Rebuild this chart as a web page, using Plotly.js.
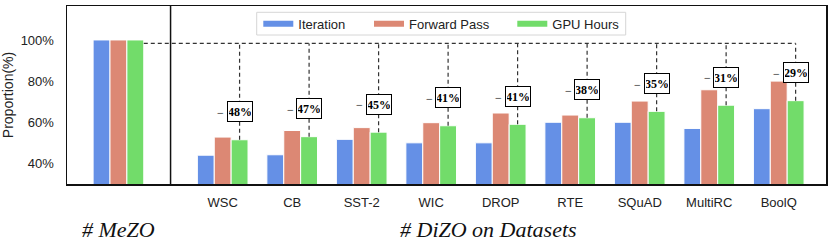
<!DOCTYPE html>
<html>
<head>
<meta charset="utf-8">
<script src="https://cdn.plot.ly/plotly-3.0.1.min.js"></script>
<style>html,body{margin:0;padding:0;background:#fff;}#chart{width:830px;height:244px;}</style>
</head>
<body>
<div id="chart"></div>
<script>
// ---- data ----
const categories = ['WSC', 'CB', 'SST-2', 'WIC', 'DROP', 'RTE', 'SQuAD', 'MultiRC', 'BoolQ'];
const seriesNames = ['Iteration', 'Forward Pass', 'GPU Hours'];
const mezoValues = [100, 100, 100];               // Iteration, Forward Pass, GPU Hours for MeZO
const iteration = [44, 44.2, 51.7, 50, 50, 60, 60, 57, 66.6];
const forwardPass = [52.8, 56, 57.4, 59.8, 64.5, 63.5, 70.3, 75.8, 80];
const gpuHours = [51.5, 53, 55.2, 58.3, 59, 62.2, 65.3, 68.3, 70.5];
const reductionLabels = ['48%', '47%', '45%', '41%', '41%', '38%', '35%', '31%', '29%'];
const yTicks = [40, 60, 80, 100];
const groupTitles = ['# MeZO', '# DiZO on Datasets'];

// ---- styling / layout constants ----
const colors = ['#6590E6', '#DC8874', '#72DC6A'];
const mezoPos = -1.5;
const barW = 0.243;
const offsets = [-1.5 * barW, -0.5 * barW, 0.5 * barW];
const refLevel = 98.3;      // dashed reference line level
const labelLift = 13.5;     // label box above green bar top
const catPos = categories.map((c, i) => i);
const serif = 'Liberation Serif, Times New Roman, serif';

const series = [iteration, forwardPass, gpuHours];
const traces = series.map((vals, k) => ({
  type: 'bar',
  x: [mezoPos].concat(catPos),
  y: [mezoValues[k]].concat(vals),
  width: barW,
  offset: offsets[k],
  marker: {color: colors[k], line: {color: '#ffffff', width: 1}},
  showlegend: false,
  hoverinfo: 'skip'
}));
// legend entries (wide swatches)
const legendIds = ['legend', 'legend2', 'legend3'];
seriesNames.forEach((n, k) => {
  traces.push({
    type: 'scatter', mode: 'lines', x: [null], y: [null], name: n,
    line: {color: colors[k], width: 6}, legend: legendIds[k], showlegend: true
  });
});

// margins
const M = {l: 67, r: 4, t: 6, b: 60};
const W = 830, H = 244;
const pw = W - M.l - M.r, ph = H - M.t - M.b;
const px2x = p => (p - M.l) / pw;
const py2y = p => (H - M.b - p) / ph;

const shapes = [];
const annotations = [];
// divider
shapes.push({type: 'line', xref: 'x', yref: 'paper', x0: (mezoPos + 0) / 2, x1: (mezoPos + 0) / 2, y0: 0, y1: 1,
  line: {color: '#111', width: 1.5}});
// horizontal dashed reference line
const greenCenter = i => catPos[i] + offsets[2] + barW / 2;
shapes.push({type: 'line', xref: 'x', yref: 'y', x0: mezoPos + offsets[2] + barW, x1: greenCenter(categories.length - 1),
  y0: refLevel, y1: refLevel, line: {color: '#333', width: 1.2, dash: '4px,3px'}});
categories.forEach((c, i) => {
  shapes.push({type: 'line', xref: 'x', yref: 'y', x0: greenCenter(i), x1: greenCenter(i),
    y0: gpuHours[i], y1: refLevel, line: {color: '#333', width: 1.2, dash: '4px,3px'}});
  annotations.push({xref: 'x', yref: 'y', x: greenCenter(i), y: gpuHours[i] + labelLift,
    text: '<b>' + reductionLabels[i] + '</b>', showarrow: false,
    font: {family: serif, size: 12, color: '#000'}, width: 22, height: 17,
    bgcolor: '#fff', bordercolor: '#000', borderwidth: 1, borderpad: 1});
  annotations.push({xref: 'x', yref: 'y', x: greenCenter(i), y: gpuHours[i] + labelLift, xshift: -14.5, yshift: -1,
    xanchor: 'right', text: '\u2212', showarrow: false, borderpad: 0,
    font: {family: serif, size: 12, color: '#000'}});
});
// legend frame
shapes.push({type: 'rect', xref: 'paper', yref: 'paper', x0: px2x(256.7), x1: px2x(625.7), y0: py2y(35), y1: py2y(12.3),
  line: {color: '#d6d6d6', width: 1}, fillcolor: 'rgba(255,255,255,0.85)'});
// group titles
annotations.push({xref: 'x', yref: 'paper', x: mezoPos, y: py2y(229), yanchor: 'middle', text: groupTitles[0], showarrow: false,
  font: {family: serif, size: 22, color: '#111', style: 'italic'}});
annotations.push({xref: 'x', yref: 'paper', x: 3.83, y: py2y(229), yanchor: 'middle', text: groupTitles[1], showarrow: false,
  font: {family: serif, size: 22, color: '#111', style: 'italic'}});

const swatchStarts = [263.3, 374, 517.3];
const legFont = {family: 'Liberation Sans, Arial, sans-serif', size: 13, color: '#222'};
const mkLegend = k => ({x: px2x(swatchStarts[k] - 5), y: py2y(23.7), xanchor: 'left', yanchor: 'middle',
  bgcolor: 'rgba(0,0,0,0)', borderwidth: 0, font: legFont, orientation: 'h'});

const layout = {
  width: W, height: H, margin: M,
  paper_bgcolor: '#fff', plot_bgcolor: '#fff',
  barmode: 'overlay',
  font: {family: 'Liberation Sans, Arial, sans-serif', size: 13, color: '#222'},
  xaxis: {range: [-2.24, 8.68], tickvals: catPos, ticktext: categories, ticks: '', showgrid: false, zeroline: false,
    showline: true, mirror: true, linecolor: '#111', linewidth: 1.5, tickfont: {size: 13, color: '#222'},
    ticklabelstandoff: 6},
  yaxis: {range: [30, 116.5], tickvals: yTicks, ticktext: yTicks.map(v => v + '%'), ticks: '', showgrid: false,
    zeroline: false, showline: true, mirror: true, linecolor: '#111', linewidth: 1.5,
    tickfont: {size: 13, color: '#222'}, ticklabelstandoff: 9,
    title: {text: 'Proportion(%)', font: {size: 14, color: '#222'}, standoff: 6}},
  legend: mkLegend(0), legend2: mkLegend(1), legend3: mkLegend(2),
  shapes: shapes, annotations: annotations
};

Plotly.newPlot('chart', traces, layout, {displayModeBar: false, staticPlot: true});
</script>
</body>
</html>
